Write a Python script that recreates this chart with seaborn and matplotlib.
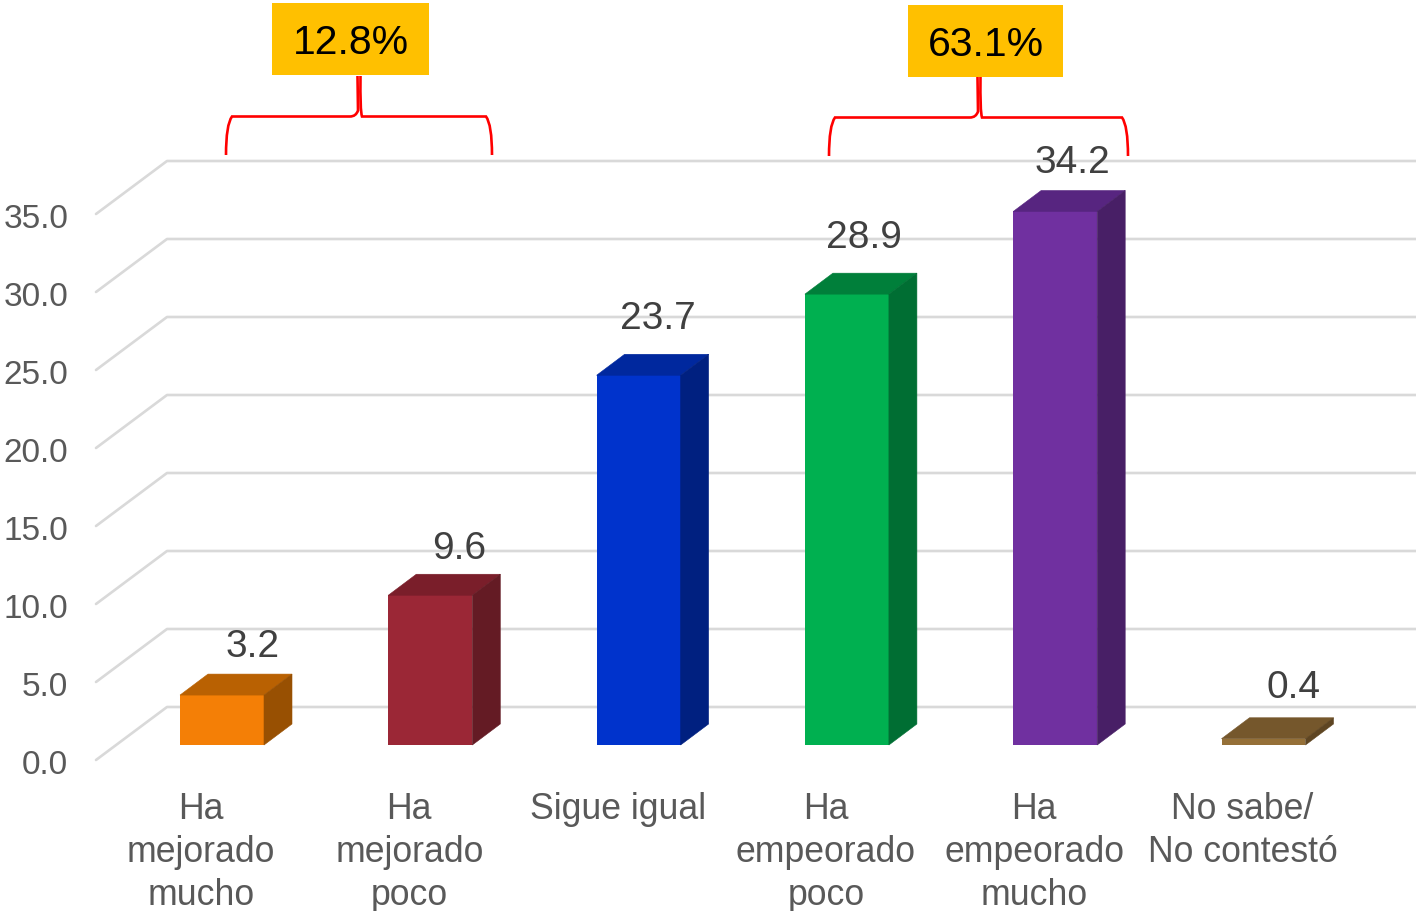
import pandas as pd
from matplotlib import pyplot as plt
from matplotlib.patches import PathPatch, Rectangle
from matplotlib.path import Path
from matplotlib.transforms import Affine2D
import seaborn as sns

############### Data ######################
categorias = ['Ha\nmejorado\nmucho', 'Ha\nmejorado\npoco', 'Sigue igual',
              'Ha\nempeorado\npoco', 'Ha\nempeorado\nmucho', 'No sabe/\nNo contestó']
valores = [3.2, 9.6, 23.7, 28.9, 34.2, 0.4]
y_ticks = [0, 5, 10, 15, 20, 25, 30, 35]
y_labels = ['0.0', '5.0', '10.0', '15.0', '20.0', '25.0', '30.0', '35.0']

color_front = ['#F47F06', '#9B2736', '#0033CC', '#00B050', '#7030A0', '#957038']
color_top = ['#B96102', '#7A1E2A', '#00289E', '#007F3A', '#572580', '#75572C']
color_side = ['#985002', '#641B24', '#002080', '#006E33', '#481F66', '#5E4522']

# moved by hand in the original, so pixel offsets from the corner of each bar
label_dx = [31, 29, 19, 17, 17, 30]
label_dy = [48, 46, 56, 56, 48, 51]

############### Layout (pixels) ###########
W, H = 1416, 911
PX_CAT = 208.3
PX_VAL = 15.6
GREY = '#595959'

df = pd.DataFrame({'categoria': categorias, 'valor': valores})

sns.set_style("white")
plt.rcParams['font.family'] = ['Liberation Sans', 'DejaVu Sans']
fig = plt.figure(figsize=(W / 100, H / 100), dpi=100)

############### Wall, ticks and labels ####
ax_wall = fig.add_axes([96 / W, (H - 760) / H, (W - 96) / W, 760 / H])
ax_wall.set_xlim((96 - 201) / PX_CAT, (W - 201) / PX_CAT)
ax_wall.set_ylim(0, 760 / PX_VAL)
ax_wall.set_xticks(range(len(categorias)), categorias, fontsize=25.7, color=GREY, linespacing=1.29)
ax_wall.set_yticks(y_ticks, y_labels, fontsize=24, color=GREY)
ax_wall.tick_params(axis='x', length=0, pad=23)
ax_wall.tick_params(axis='y', length=0, pad=20)
for lab in ax_wall.get_yticklabels():
    lab.set_transform(lab.get_transform() + Affine2D().translate(0, -1.5))
sns.despine(ax=ax_wall, left=True, bottom=True)

x0, x1 = ax_wall.get_xlim()
for v in y_ticks:
    ax_wall.plot([x0, x0 + 71 / PX_CAT, x1], [v, v + 53 / PX_VAL, v + 53 / PX_VAL],
                 color='#D9D9D9', lw=1.9, solid_joinstyle='round', clip_on=False)

############### Bars ######################
ax_bars = fig.add_axes([(96 + 21) / W, (H - 745) / H, (W - 96) / W, 745 / H])
ax_bars.patch.set_alpha(0)
sns.barplot(data=df, x='categoria', y='valor', hue='categoria', palette=color_front,
            saturation=1, width=84 / PX_CAT, legend=False, linewidth=0, ax=ax_bars)
ax_bars.set_xlim((96 - 201) / PX_CAT, (W - 201) / PX_CAT)
ax_bars.set_ylim(0, 745 / PX_VAL)
ax_bars.axis('off')

half = 42 / PX_CAT
dx = 28 / PX_CAT
dy = 21 / PX_VAL
for i, v in enumerate(valores):
    ax_bars.fill([i - half, i + half, i + half + dx, i - half + dx], [v, v, v + dy, v + dy],
                 color=color_top[i], lw=0.4, clip_on=False)
    ax_bars.fill([i + half, i + half + dx, i + half + dx, i + half], [0, dy, v + dy, v],
                 color=color_side[i], lw=0.4, clip_on=False)
    ax_bars.annotate(f'{v:.1f}', (i, v), xytext=(label_dx[i], label_dy[i]), textcoords='offset pixels',
                     ha='center', va='center', fontsize=28, color='#404040')

############### Braces and boxes ##########
to_px = Affine2D().scale(1, -1).translate(0, H)


def brace(left, right, mid, top, tip, bottom):
    verts = [(left, bottom), (left, top + 8), (left + 6, top), (mid - 9, top),
             (mid - 3, top), (mid - 1, top - 6), (mid - 1.5, tip),
             (mid + 1.5, tip), (mid + 1, top - 6), (mid + 3, top), (mid + 9, top),
             (right - 6, top), (right, top + 8), (right, bottom)]
    codes = [Path.MOVETO, Path.CURVE3, Path.CURVE3, Path.LINETO,
             Path.CURVE3, Path.CURVE3, Path.LINETO,
             Path.MOVETO, Path.CURVE3, Path.CURVE3, Path.LINETO,
             Path.LINETO, Path.CURVE3, Path.CURVE3]
    fig.add_artist(PathPatch(Path(verts, codes), fc='none', ec='#FF0000', lw=1.9,
                             transform=to_px, zorder=3))


def box(left, right, top, bottom, text):
    fig.add_artist(Rectangle((left, top), right - left, bottom - top, fc='#FFC000', ec='none',
                             transform=to_px, zorder=4))
    fig.text((left + right) / 2 / W, 1 - ((top + bottom) / 2 + 4) / H, text, ha='center', va='center',
             fontsize=29.5, color='black', zorder=5)


brace(226, 492, 359, 116.5, 76, 155)
brace(829, 1128, 979, 117.5, 77, 156)
box(272, 429, 3, 75, '12.8%')
box(908, 1063, 5, 77, '63.1%')

fig.savefig('out.png', dpi=100)
